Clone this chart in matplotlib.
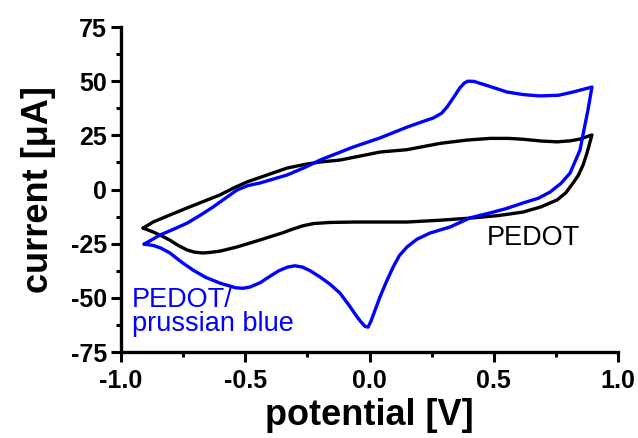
import matplotlib
matplotlib.use("Agg")
import matplotlib.pyplot as plt
from matplotlib.ticker import MultipleLocator

# PEDOT film: forward (anodic) and reverse (cathodic) scans
pedot_fwd_E = [-0.911, -0.871, -0.800, -0.734, -0.668, -0.602, -0.545, -0.493, -0.410,
               -0.332, -0.260, -0.199, -0.119, -0.040, 0.042, 0.151, 0.284, 0.390,
               0.485, 0.560, 0.618, 0.690, 0.755, 0.810, 0.847, 0.895]
pedot_fwd_I = [-17.8, -15.0, -11.6, -8.5, -5.5, -2.5, 0.8, 3.5, 6.8,
               9.9, 11.6, 12.7, 13.6, 15.4, 17.3, 18.4, 21.3, 22.8,
               23.6, 23.6, 23.2, 22.4, 22.0, 22.5, 23.3, 25.2]
pedot_rev_E = [0.875, 0.860, 0.840, 0.819, 0.790, 0.755, 0.690, 0.618, 0.520, 0.416,
               0.280, 0.151, 0.042, -0.060, -0.159, -0.225, -0.270, -0.310, -0.350,
               -0.400, -0.441, -0.490, -0.533, -0.600, -0.640, -0.670, -0.705, -0.734,
               -0.770, -0.803, -0.840, -0.871, -0.911]
pedot_rev_I = [16.8, 11.5, 6.5, 3.0, -1.5, -4.8, -8.0, -10.4, -12.0, -13.1,
               -14.2, -15.0, -15.0, -15.0, -15.2, -15.7, -16.8, -18.3, -20.0,
               -21.8, -23.3, -25.0, -26.5, -28.4, -29.0, -29.3, -28.9, -27.9,
               -25.8, -23.4, -21.2, -19.6, -17.8]

# PEDOT / prussian blue film
pb_fwd_E = [-0.907, -0.843, -0.790, -0.734, -0.680, -0.630, -0.580, -0.533, -0.490,
            -0.441, -0.332, -0.260, -0.199, -0.066, 0.042, 0.151, 0.220, 0.256,
            0.290, 0.312, 0.340, 0.364, 0.382, 0.396, 0.420, 0.445, 0.500, 0.553,
            0.620, 0.686, 0.760, 0.819, 0.895]
pb_fwd_I = [-25.2, -21.0, -18.4, -15.5, -11.8, -8.1, -4.0, -0.2, 1.8,
            3.0, 6.7, 10.2, 13.6, 19.6, 23.8, 28.8, 31.6, 33.0,
            35.2, 38.1, 42.8, 47.0, 49.2, 50.0, 49.9, 49.0, 47.0, 45.0,
            43.8, 43.2, 43.5, 45.0, 47.3]
pb_rev_E = [0.879, 0.862, 0.847, 0.807, 0.770, 0.726, 0.680, 0.618, 0.550, 0.485,
            0.404, 0.324, 0.243, 0.190, 0.151, 0.120, 0.095, 0.068, 0.042, 0.018,
            0.005, -0.006, -0.018, -0.035, -0.050, -0.085, -0.119, -0.160, -0.199,
            -0.240, -0.270, -0.300, -0.330, -0.365, -0.400, -0.440, -0.481, -0.510,
            -0.540, -0.602, -0.660, -0.710, -0.760, -0.803, -0.840, -0.871, -0.907]
pb_rev_I = [36.7, 27.0, 18.2, 7.6, 2.8, -1.2, -4.0, -6.2, -8.8, -10.8,
            -13.1, -17.3, -20.1, -23.0, -26.5, -30.5, -35.8, -42.5, -49.6, -57.0,
            -61.0, -63.5, -63.2, -61.0, -58.8, -53.0, -47.8, -43.6, -40.4,
            -37.4, -35.8, -35.2, -35.8, -37.5, -40.0, -43.0, -45.0, -45.6,
            -45.3, -43.2, -40.5, -37.2, -33.2, -29.3, -27.0, -25.8, -25.2]

x_ticks = [-1.0, -0.5, 0.0, 0.5, 1.0]
y_ticks = [-75, -50, -25, 0, 25, 50, 75]

plt.rcParams["font.family"] = ["Liberation Sans", "DejaVu Sans"]

fig = plt.figure(figsize=(6.38, 4.38), dpi=100)
ax = fig.add_axes([0.1897, 0.1963, 0.779, 0.742])

ax.plot(pedot_fwd_E + pedot_rev_E, pedot_fwd_I + pedot_rev_I,
        color="black", lw=2.4, solid_joinstyle="round", solid_capstyle="round")
ax.plot(pb_fwd_E + pb_rev_E, pb_fwd_I + pb_rev_I,
        color="#0000ff", lw=2.4, solid_joinstyle="round", solid_capstyle="round")

ax.set_xlim(-1.0, 1.0)
ax.set_ylim(-75, 75)
ax.set_xticks(x_ticks)
ax.set_yticks(y_ticks)
ax.set_xticklabels([f"{v:.1f}" for v in x_ticks])
ax.set_yticklabels([f"{v:d}" for v in y_ticks])
ax.xaxis.set_minor_locator(MultipleLocator(0.25))
ax.yaxis.set_minor_locator(MultipleLocator(12.5))

for side in ("top", "right"):
    ax.spines[side].set_visible(False)
for side in ("left", "bottom"):
    ax.spines[side].set_linewidth(2.4)

ax.tick_params(which="major", direction="out", length=7, width=2.2, pad=3)
ax.tick_params(which="minor", direction="out", length=3.8, width=2.2)
ax.tick_params(axis="x", which="major", pad=5)
for lab in ax.get_xticklabels() + ax.get_yticklabels():
    lab.set_fontsize(18)
    lab.set_fontweight("bold")

ax.set_xlabel("potential [V]", fontsize=26, fontweight="bold", labelpad=4)
ax.set_ylabel("current [\u03bcA]", fontsize=26, fontweight="bold", labelpad=11)

ax.text(0.47, -22.5, "PEDOT", color="black", fontsize=19.5,
        ha="left", va="center")
ax.text(-0.955, -56.5, "PEDOT/\nprussian blue", color="#0000ff", fontsize=19.5,
        ha="left", va="center", linespacing=0.92)

fig.savefig("out.png", dpi=100)
